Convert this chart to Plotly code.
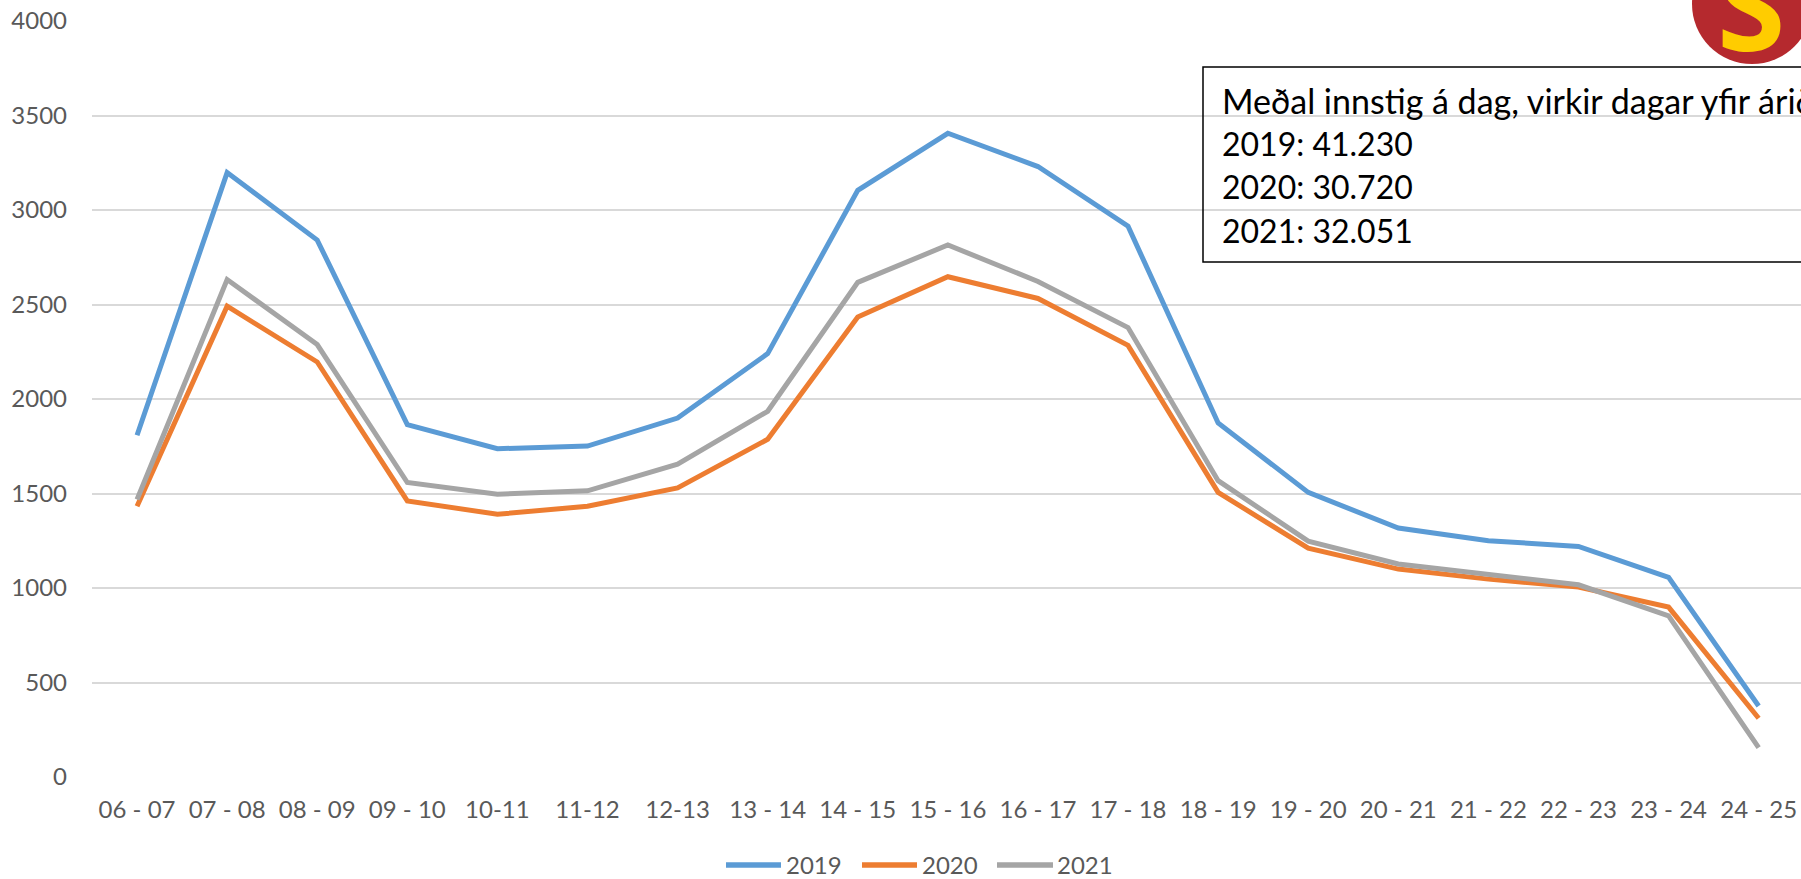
import plotly.graph_objects as go

categories = ["06 - 07", "07 - 08", "08 - 09", "09 - 10", "10-11", "11-12", "12-13",
              "13 - 14", "14 - 15", "15 - 16", "16 - 17", "17 - 18", "18 - 19", "19 - 20",
              "20 - 21", "21 - 22", "22 - 23", "23 - 24", "24 - 25"]
y2019 = [1808, 3198, 2841, 1864, 1737, 1751, 1899, 2240, 3104, 3406, 3230, 2914, 1873, 1506, 1317, 1250, 1220, 1056, 376]
y2020 = [1433, 2491, 2196, 1461, 1390, 1433, 1530, 1787, 2434, 2647, 2532, 2284, 1506, 1211, 1100, 1047, 1005, 899, 311]
y2021 = [1468, 2632, 2288, 1558, 1496, 1514, 1655, 1935, 2617, 2815, 2622, 2378, 1568, 1248, 1127, 1073, 1017, 853, 155]
series_names = ["2019", "2020", "2021"]
series_colors = ["#5B9BD5", "#ED7D31", "#A5A5A5"]
box_lines = ["Meðal innstig á dag, virkir dagar yfir árið", "2019: 41.230", "2020: 30.720", "2021: 32.051"]

W, H = 1801, 879
L, R, T, B = 92, 0, 21, 102
PW, PH = W - L - R, H - T - B


def px(x):
    return (x - L) / PW


def py(y):
    return (H - B - y) / PH


fig = go.Figure()
for name, vals, col in zip(series_names, [y2019, y2020, y2021], series_colors):
    fig.add_trace(go.Scatter(x=categories, y=vals, mode="lines", name=name,
                             line=dict(color=col, width=5), showlegend=False))

shapes = []
annotations = []

# manual legend
leg_y = 864
leg_items = [(726, 781, 784), (862, 917, 920), (997, 1053, 1055)]
for (x0, x1, xt), name, col in zip(leg_items, series_names, series_colors):
    shapes.append(dict(type="line", xref="paper", yref="paper", x0=px(x0), x1=px(x1),
                       y0=py(leg_y + 1), y1=py(leg_y + 1), line=dict(color=col, width=5.5)))
    annotations.append(dict(text=name, xref="paper", yref="paper", x=px(xt), y=py(leg_y),
                            xanchor="left", yanchor="middle", showarrow=False,
                            font=dict(family="Lato", size=24, color="#595959")))

# text box
shapes.append(dict(type="rect", xref="paper", yref="paper", x0=px(1203), x1=px(1900),
                   y0=py(262), y1=py(67), line=dict(color="black", width=1.5),
                   fillcolor="rgba(0,0,0,0)", layer="above"))
box_sizes = [34, 32, 32, 32]
for txt, yy, fs in zip(box_lines, [100, 143, 187, 230], box_sizes):
    annotations.append(dict(text=txt, xref="paper", yref="paper", x=px(1220), y=py(yy),
                            xanchor="left", yanchor="middle", showarrow=False,
                            font=dict(family="Lato", size=fs, color="black")))

# logo
cx, cy, r = 1752, 4, 60
shapes.append(dict(type="circle", xref="paper", yref="paper", x0=px(cx - r), x1=px(cx + r),
                   y0=py(cy + r), y1=py(cy - r), line=dict(width=0), fillcolor="#B5292E",
                   layer="above"))
annotations.append(dict(text="<b>S</b>", xref="paper", yref="paper", x=px(1751), y=py(2),
                        xanchor="center", yanchor="middle", showarrow=False,
                        font=dict(family="Open Sans", size=124, color="#FFCC00")))

fig.update_layout(
    width=W, height=H, autosize=False,
    margin=dict(l=L, r=R, t=T, b=B, pad=0),
    paper_bgcolor="white", plot_bgcolor="white",
    shapes=shapes, annotations=annotations,
    xaxis=dict(type="category", range=[-0.5, 18.47], showgrid=False, showline=False,
               zeroline=False, ticks="", tickfont=dict(family="Lato", size=24, color="#595959"),
               ticklabelstandoff=16),
    yaxis=dict(range=[0, 4000], dtick=500, showgrid=True, gridcolor="#D9D9D9", gridwidth=1.5,
               zeroline=False, showline=False, ticks="",
               tickfont=dict(family="Lato", size=24, color="#595959"), ticklabelstandoff=24),
)

fig.write_html("out.html", config={"displayModeBar": False},
               post_script="document.body.style.margin='0';")
